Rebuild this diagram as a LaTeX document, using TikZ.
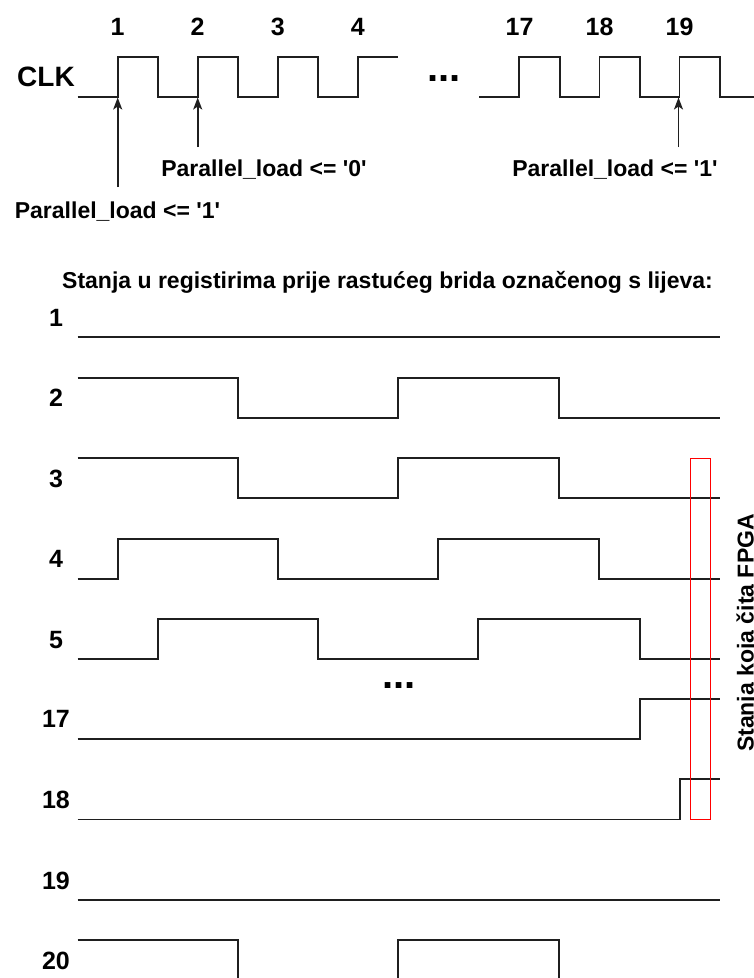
\documentclass[tikz,border=0pt]{standalone}
\usepackage{fontspec}
\newfontfamily\arialb{Liberation Sans}
\usetikzlibrary{arrows.meta}
\begin{document}
\begin{tikzpicture}[x=1pt,y=-1pt,
  wave/.style={line width=1.8pt, draw=black!88},
  arr/.style={line width=1.6pt, draw=black!88, -{Stealth[length=12pt,width=9pt,inset=3pt]}},
  lbl/.style={inner sep=0pt, anchor=base, font=\arialb\fontsize{23}{27}\selectfont\bfseries},
  num/.style={inner sep=0pt, anchor=base, font=\arialb\fontsize{25}{30}\selectfont\bfseries},
  big/.style={inner sep=0pt, anchor=base, font=\arialb\fontsize{28}{32}\selectfont\bfseries},
  dots/.style={inner sep=0pt, anchor=base, font=\arialb\fontsize{40}{48}\selectfont\bfseries},
  readbox/.style={draw=red, line width=0.9pt}]
\useasboundingbox (0,0) rectangle (754,978);

% clock numbers
\node[num] (c1) at (117.7,35) {1};
\node[num] (c2) at (197.7,35) {2};
\node[num] (c3) at (277.7,35) {3};
\node[num] (c4) at (357.7,35) {4};
\node[num] (c17) at (519.5,35) {17};
\node[num] (c18) at (599.5,35) {18};
\node[num] (c19) at (679.5,35) {19};
\node[big] (clk) at (46,86.7) {CLK};
\node[dots] (d1) at (444,81.7) {...};

% clock waveform
\draw[wave] (77.7,96.7) -- (117.7,96.7) -- (117.7,56.7) -- (157.7,56.7) -- (157.7,96.7)
  -- (197.7,96.7) -- (197.7,56.7) -- (237.7,56.7) -- (237.7,96.7)
  -- (277.7,96.7) -- (277.7,56.7) -- (317.9,56.7) -- (317.9,96.7)
  -- (357.9,96.7) -- (357.9,56.7) -- (398.3,56.7);
\draw[wave] (479.3,96.7) -- (519.3,96.7) -- (519.3,56.7) -- (559.8,56.7) -- (559.8,96.7)
  -- (599.5,96.7) -- (599.5,56.7) -- (639.8,56.7) -- (639.8,96.7)
  -- (679.5,96.7) -- (679.5,56.7) -- (719.8,56.7) -- (719.8,96.7) -- (756,96.7);

% edge markers
\coordinate (e1) at (117.7,97.5);
\coordinate (e2) at (197.7,97.5);
\coordinate (e19) at (678.5,97.5);
\coordinate (s1) at (117.7,187);
\coordinate (s2) at (197.7,147);
\coordinate (s19) at (678.5,147);
\draw[arr] (s1) -- (e1);
\draw[arr] (s2) -- (e2);
\draw[arr] (s19) -- (e19);
\node[lbl] (pl0) at (264,176.7) {Parallel\_load <= '0'};
\node[lbl] (pl1a) at (117.5,218.3) {Parallel\_load <= '1'};
\node[lbl] (pl1b) at (615,176.7) {Parallel\_load <= '1'};

% title
\node[lbl] (title) at (387.5,288.3) {Stanja u registirima prije rastućeg brida označenog s lijeva:};

% row labels
\node[num] (r1) at (56,326.3) {1};
\node[num] (r2) at (56,406.7) {2};
\node[num] (r3) at (56,487.3) {3};
\node[num] (r4) at (56,567.7) {4};
\node[num] (r5) at (56,648) {5};
\node[num] (r17) at (56,727.7) {17};
\node[num] (r18) at (56,808.5) {18};
\node[num] (r19) at (56,889) {19};
\node[num] (r20) at (56,969.3) {20};
\node[dots] (d2) at (399,688.3) {...};

% register waveforms
\draw[wave] (77.7,337.3) -- (720,337.3);
\draw[wave] (77.7,377.7) -- (237.7,377.7) -- (237.7,417.7) -- (398.3,417.7) -- (398.3,377.7)
  -- (559.3,377.7) -- (559.3,417.7) -- (720,417.7);
\draw[wave] (77.7,458.3) -- (237.7,458.3) -- (237.7,498.3) -- (398.3,498.3) -- (398.3,458.3)
  -- (559.3,458.3) -- (559.3,498.3) -- (720,498.3);
\draw[wave] (77.7,578.7) -- (117.7,578.7) -- (117.7,539) -- (278,539) -- (278,578.7)
  -- (438.3,578.7) -- (438.3,539) -- (599.3,539) -- (599.3,578.7) -- (720,578.7);
\draw[wave] (77.7,659) -- (157.7,659) -- (157.7,619) -- (318.3,619) -- (318.3,659)
  -- (478.3,659) -- (478.3,619) -- (640,619) -- (640,659) -- (720,659);
\draw[wave] (77.7,738.7) -- (640,738.7) -- (640,699.3) -- (720,699.3);
\draw[wave] (77.7,819.5) -- (680,819.5) -- (680,779.3) -- (720,779.3);
\draw[wave] (77.7,900) -- (720,900);
\draw[wave] (77.7,940.3) -- (237.7,940.3) -- (237.7,980);
\draw[wave] (398.3,980) -- (398.3,940.3) -- (559.3,940.3) -- (559.3,980);

% read window
\draw[readbox] (690,458.3) rectangle (710.3,819.5);
\node[lbl, rotate=90] (fpga) at (753.5,633) {Stanja koja čita FPGA};
\end{tikzpicture}
\end{document}
